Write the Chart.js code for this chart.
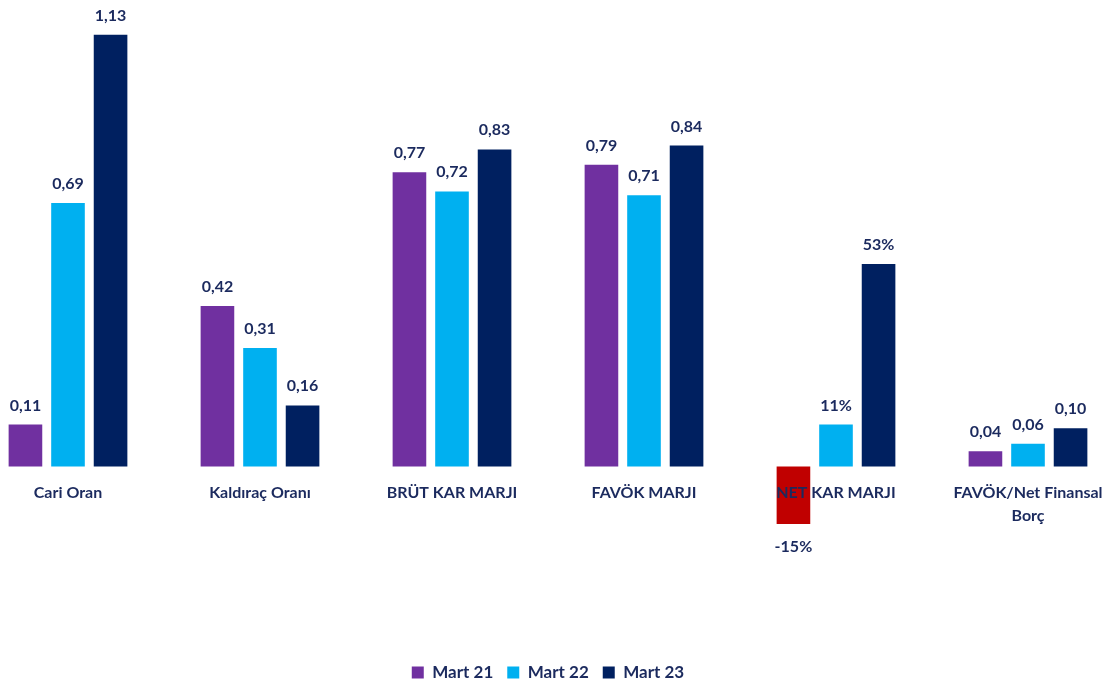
<!DOCTYPE html>
<html>
<head>
<meta charset="utf-8">
<script src="https://cdn.jsdelivr.net/npm/chart.js@4/dist/chart.umd.min.js"></script>
<style>
  html, body { margin: 0; padding: 0; background: #ffffff; overflow: hidden; }
  #wrap { position: absolute; left: -28px; top: 0; width: 1152px; height: 691px; }
</style>
</head>
<body>
<div id="wrap"><canvas id="chart"></canvas></div>
<script>
// Financial ratios by period
const categories = [
  'Cari Oran',
  'Kaldıraç Oranı',
  'BRÜT KAR MARJI',
  'FAVÖK MARJI',
  'NET KAR MARJI',
  ['FAVÖK/Net Finansal', 'Borç']
];
const seriesNames = ['Mart 21', 'Mart 22', 'Mart 23'];
const mart21 = [0.11, 0.42, 0.77, 0.79, -0.15, 0.04];
const mart22 = [0.69, 0.31, 0.72, 0.71, 0.11, 0.06];
const mart23 = [1.13, 0.16, 0.83, 0.84, 0.53, 0.10];
// how each category's value is written on its label
const valueFormats = ['ratio', 'ratio', 'ratio', 'ratio', 'percent', 'ratio'];

const colors = ['#7030A0', '#00B0F0', '#002060'];
const negativeColor = '#C00000';
const textColor = '#1B2A5E';
const fontFamily = 'Lato, "Open Sans", sans-serif';
const labelFont = 'bold 16px ' + fontFamily;

function formatValue(v, idx) {
  if (valueFormats[idx] === 'percent') return Math.round(v * 100) + '%';
  return v.toFixed(2).replace('.', ',');
}

// value labels on the bars, and category names along the zero line (drawn over the bars)
const barTexts = {
  id: 'barTexts',
  afterDatasetsDraw(chart) {
    const ctx = chart.ctx;
    const xs = chart.scales.x;
    const zeroY = chart.scales.y.getPixelForValue(0);
    ctx.save();
    ctx.font = labelFont;
    ctx.fillStyle = textColor;
    ctx.textAlign = 'center';

    chart.data.datasets.forEach((ds, di) => {
      const meta = chart.getDatasetMeta(di);
      meta.data.forEach((bar, i) => {
        const v = ds.data[i];
        const txt = formatValue(v, i);
        if (v >= 0) {
          ctx.textBaseline = 'alphabetic';
          ctx.fillText(txt, bar.x, bar.y - 14);
        } else {
          ctx.textBaseline = 'middle';
          ctx.fillText(txt, bar.x, bar.y + 23);
        }
      });
    });

    ctx.textBaseline = 'middle';
    chart.data.labels.forEach((lab, i) => {
      const lines = Array.isArray(lab) ? lab : [lab];
      const x = xs.getPixelForValue(i);
      lines.forEach((line, li) => {
        ctx.fillText(line, x, zeroY + 26 + li * 23);
      });
    });
    ctx.restore();
  }
};

const seriesData = [mart21, mart22, mart23];

new Chart(document.getElementById('chart'), {
  type: 'bar',
  data: {
    labels: categories,
    datasets: seriesNames.map((name, i) => ({
      label: name,
      data: seriesData[i],
      backgroundColor: (c) => (c.raw !== undefined && c.raw < 0) ? negativeColor : colors[i],
      categoryPercentage: 0.665,
      barPercentage: 0.79
    }))
  },
  options: {
    responsive: true,
    maintainAspectRatio: false,
    animation: false,
    layout: { padding: { top: 8, bottom: 0, left: 0, right: 0 } },
    scales: {
      x: {
        display: false,
        grid: { display: false }
      },
      y: {
        display: false,
        min: -0.48,
        max: 1.2
      }
    },
    plugins: {
      legend: {
        position: 'bottom',
        labels: {
          color: textColor,
          font: { family: fontFamily, size: 17, weight: 'bold' },
          boxWidth: 12,
          boxHeight: 12,
          padding: 14
        }
      },
      tooltip: { enabled: false }
    }
  },
  plugins: [barTexts]
});
</script>
</body>
</html>
